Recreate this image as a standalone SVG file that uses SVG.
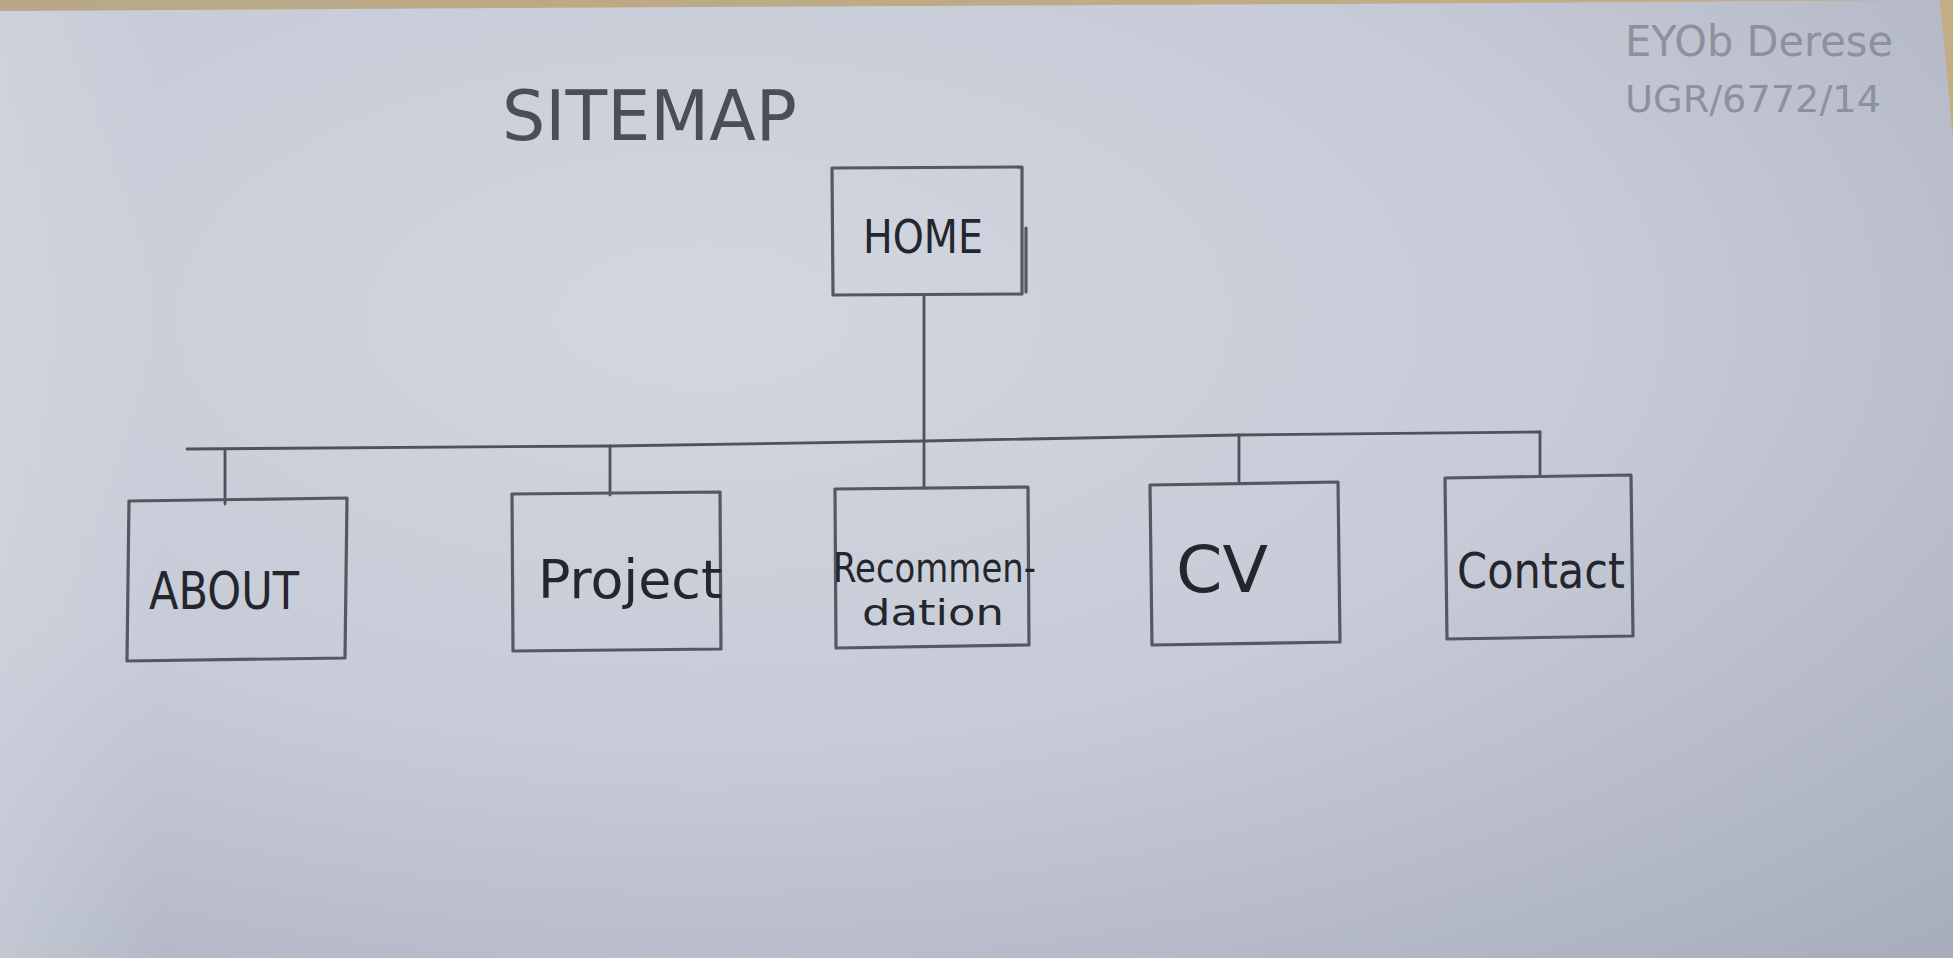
<svg xmlns="http://www.w3.org/2000/svg" width="1953" height="958" viewBox="0 0 1953 958">
  <style>
    .box { fill: none; stroke: #545862; stroke-width: 3.2; stroke-linejoin: round; stroke-linecap: round; }
    .wire { fill: none; stroke: #4e525c; stroke-width: 2.8; stroke-linecap: round; }
    .lbl { font-family: "DejaVu Sans", "Liberation Sans", sans-serif; fill: #24262d; }
    .title { font-family: "DejaVu Sans", "Liberation Sans", sans-serif; fill: #4a4e58; }
    .sig { font-family: "DejaVu Sans", "Liberation Sans", sans-serif; fill: #8c919c; }
  </style>
  <defs>
    <radialGradient id="paper" cx="0.36" cy="0.33" r="0.9">
      <stop offset="0" stop-color="#d2d6e0"/>
      <stop offset="0.5" stop-color="#c7cbd7"/>
      <stop offset="1" stop-color="#a9aebd"/>
    </radialGradient>
    <linearGradient id="edgeLight" x1="0" y1="0" x2="1" y2="0">
      <stop offset="0" stop-color="#d4dbe4" stop-opacity="0.45"/>
      <stop offset="1" stop-color="#d4dbe4" stop-opacity="0"/>
    </linearGradient>
    <linearGradient id="desk" x1="0" y1="0" x2="1" y2="0">
      <stop offset="0" stop-color="#b9a887"/>
      <stop offset="1" stop-color="#c3ad84"/>
    </linearGradient>
  </defs>

  <!-- desk behind the sheet -->
  <rect x="0" y="0" width="1953" height="140" fill="url(#desk)"/>
  <!-- paper sheet -->
  <path d="M0 11 L700 7 L1500 3 L1940 0 L1953 140 L1953 958 L0 958 Z" fill="url(#paper)"/>
  <rect x="0" y="11" width="160" height="947" fill="url(#edgeLight)"/>

  <!-- title and signature -->
  <text class="title" x="502" y="140" font-size="70" textLength="295" lengthAdjust="spacingAndGlyphs">SITEMAP</text>
  <text class="sig" x="1625" y="56" font-size="42" textLength="268" lengthAdjust="spacingAndGlyphs">EYOb Derese</text>
  <text class="sig" x="1625" y="112" font-size="38" textLength="256" lengthAdjust="spacingAndGlyphs">UGR/6772/14</text>

  <!-- connectors -->
  <g id="connectors">
    <path class="wire" d="M924 295 L924 488"/>
    <path class="wire" d="M187 449 L610 446 L924 441 L1239 435 L1540 432"/>
    <path class="wire" d="M225 449 L225 504"/>
    <path class="wire" d="M610 446 L610 495"/>
    <path class="wire" d="M1239 435 L1239 483"/>
    <path class="wire" d="M1540 432 L1540 476"/>
  </g>

  <!-- nodes -->
  <g id="home">
    <path class="box" d="M832 168 L1022 167 L1022 294 L833 295 Z"/>
    <path class="box" d="M1026 228 L1026 292" stroke-width="2"/>
    <text class="lbl" x="863" y="253" font-size="46" textLength="120" lengthAdjust="spacingAndGlyphs">HOME</text>
  </g>
  <g id="about">
    <path class="box" d="M129 501 L347 498 L345 658 L127 661 Z"/>
    <text class="lbl" x="149" y="609" font-size="52" textLength="150" lengthAdjust="spacingAndGlyphs">ABOUT</text>
  </g>
  <g id="project">
    <path class="box" d="M512 494 L720 492 L721 649 L513 651 Z"/>
    <text class="lbl" x="538" y="598" font-size="54" textLength="184" lengthAdjust="spacingAndGlyphs">Project</text>
  </g>
  <g id="recommendation">
    <path class="box" d="M835 489 L1028 487 L1029 645 L836 648 Z"/>
    <text class="lbl" x="833" y="582" font-size="40" textLength="203" lengthAdjust="spacingAndGlyphs">Recommen-</text>
    <text class="lbl" x="862" y="625" font-size="35" textLength="142" lengthAdjust="spacingAndGlyphs">dation</text>
  </g>
  <g id="cv">
    <path class="box" d="M1150 485 L1338 482 L1340 642 L1152 645 Z"/>
    <text class="lbl" x="1176" y="592" font-size="64" textLength="92" lengthAdjust="spacingAndGlyphs">CV</text>
  </g>
  <g id="contact">
    <path class="box" d="M1445 478 L1631 475 L1633 636 L1447 639 Z"/>
    <text class="lbl" x="1457" y="588" font-size="50" textLength="168" lengthAdjust="spacingAndGlyphs">Contact</text>
  </g>
</svg>
